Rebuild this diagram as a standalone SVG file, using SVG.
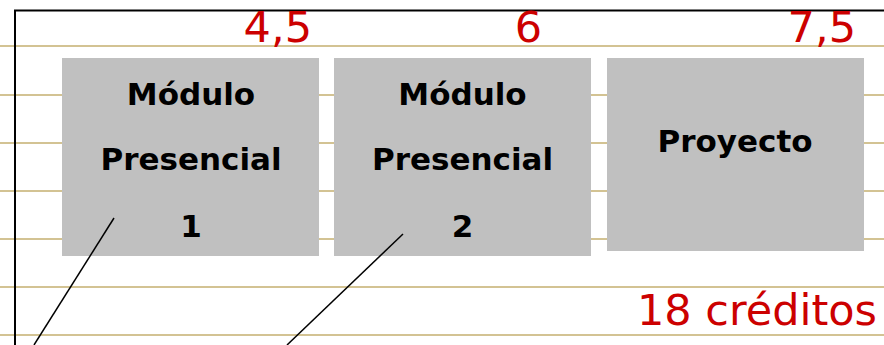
<svg xmlns="http://www.w3.org/2000/svg" width="884" height="345" viewBox="0 0 884 345">
<defs>
<style>
.rule{stroke:#d3c393;stroke-width:2;fill:none}
.box{fill:#c0c0c0}
.lbl{font-family:"DejaVu Sans",sans-serif;font-weight:bold;font-size:31px;fill:#000;text-anchor:middle}
.red{font-family:"DejaVu Sans",sans-serif;font-size:43px;fill:#cc0000}
.conn{stroke:#000;stroke-width:1.5;fill:none}
</style>
</defs>
<rect width="884" height="345" fill="#fff"/>
<g id="rules">
<line class="rule" x1="0" y1="46" x2="884" y2="46"/>
<line class="rule" x1="0" y1="95" x2="884" y2="95"/>
<line class="rule" x1="0" y1="143" x2="884" y2="143"/>
<line class="rule" x1="0" y1="191" x2="884" y2="191"/>
<line class="rule" x1="0" y1="239" x2="884" y2="239"/>
<line class="rule" x1="0" y1="287" x2="884" y2="287"/>
<line class="rule" x1="0" y1="335" x2="884" y2="335"/>
</g>
<path d="M15 346 V10.5 H885" stroke="#000" stroke-width="2" fill="none"/>
<g id="modulo1">
<rect class="box" x="62" y="58" width="257" height="198"/>
<text class="lbl" x="191" y="105">Módulo</text>
<text class="lbl" x="191" y="170">Presencial</text>
<text class="lbl" x="191" y="237">1</text>
</g>
<g id="modulo2">
<rect class="box" x="334" y="58" width="257" height="198"/>
<text class="lbl" x="462.5" y="105">Módulo</text>
<text class="lbl" x="462.5" y="170">Presencial</text>
<text class="lbl" x="462.5" y="237">2</text>
</g>
<g id="proyecto">
<rect class="box" x="607" y="58" width="257" height="193"/>
<text class="lbl" x="735" y="152">Proyecto</text>
</g>
<g id="labels">
<text class="red" x="312" y="42" text-anchor="end">4,5</text>
<text class="red" x="528.5" y="42" text-anchor="middle">6</text>
<text class="red" x="856" y="42" text-anchor="end">7,5</text>
<text class="red" x="877" y="325" text-anchor="end" font-size="49">18 créditos</text>
</g>
<g id="connectors">
<line class="conn" x1="114" y1="218" x2="34" y2="345"/>
<line class="conn" x1="403" y1="234" x2="287" y2="345"/>
</g>
</svg>
